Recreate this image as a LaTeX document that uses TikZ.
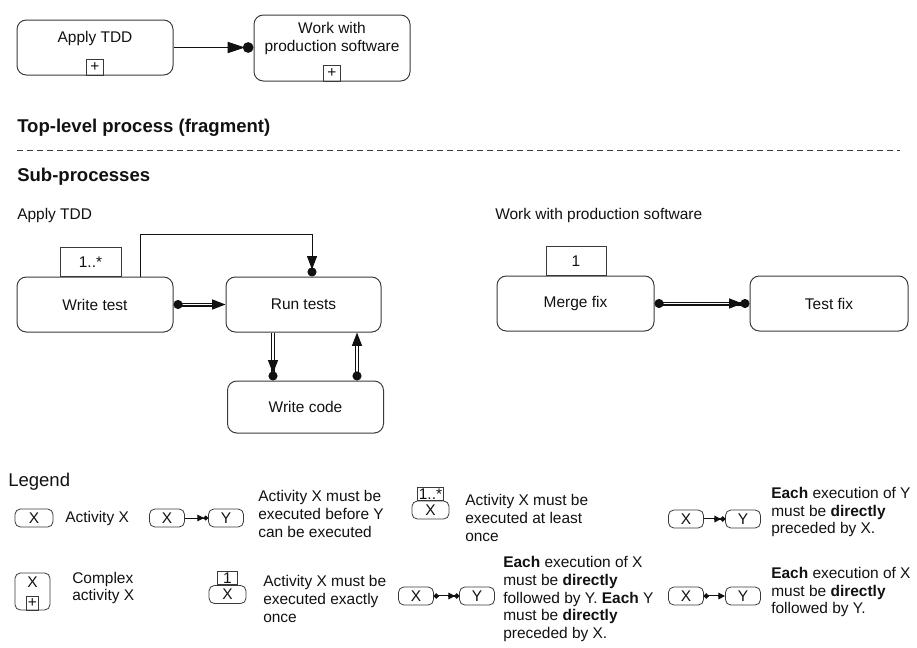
\documentclass[tikz,border=0pt]{standalone}
\usepackage{fontspec}
\setmainfont{Liberation Sans}
\usetikzlibrary{arrows.meta}
\definecolor{ink}{HTML}{111111}
\definecolor{rim}{HTML}{3A3A3A}
\tikzset{
  toptri/.tip={Triangle[length=13pt,width=8.5pt]},
  topdot/.tip={Circle[length=8pt]},
  bigtri/.tip={Triangle[length=10pt,width=7.5pt]},
  bigdot/.tip={Circle[length=6.8pt]},
  smalltri/.tip={Triangle[length=5pt 0 0,width=4.8pt 0 0]},
  smalldot/.tip={Circle[length=3.6pt 0 0]},
}
\begin{document}
\begin{tikzpicture}[x=0.75pt,y=-0.75pt,
  font=\fontsize{11.6}{13.1}\selectfont, text=ink,
  wd/.style={minimum width=#1*0.75pt},
  ht/.style={minimum height=#1*0.75pt},
  act/.style={draw=rim, line width=0.75pt, rounded corners=7pt, inner sep=0pt},
  plusbox/.style={draw=rim, line width=0.75pt, inner sep=0pt, wd=17, ht=16, anchor=south},
  multbox/.style={draw=rim, line width=0.75pt, inner sep=0pt, anchor=south, ht=29},
  txt/.style={anchor=west, inner sep=0pt, align=left},
  head/.style={txt, font=\fontsize{13.9}{16}\selectfont\bfseries},
  lbox/.style={draw=rim, line width=0.6pt, rounded corners=4pt, inner sep=0pt, wd=35, ht=18},
  lmult/.style={draw=rim, line width=0.6pt, inner sep=0.5pt, anchor=south, ht=13},
  ltext/.style={txt, font=\fontsize{11.6}{13.2}\selectfont},
  topbefore/.style={draw=ink, line width=0.75pt, -{toptri[sep=-1.5pt]topdot}},
  before/.style={draw=ink, line width=0.75pt, -{bigtri[sep=-1.5pt]bigdot}},
  sbefore/.style={draw=ink, line width=0.65pt, -{smalltri[sep=-0.6pt 0 0]smalldot}},
  dbl/.style={draw=ink, line width=0.9pt, double=white, double distance=1.2pt},
  % small double connectors: a solid band with a white core laid over it
  sband/.style={draw=ink, line width=2.1pt},
  score/.style={draw=white, line width=0.75pt},
]
\useasboundingbox (0,0) rectangle (917,647);

% ---------- top-level process ----------
\node[act, wd=156, ht=55] (apt) at (95,47.5) {};
\node at (95,38) {Apply TDD};
\node[plusbox] (aptplus) at (apt.south) {+};

\node[act, wd=156, ht=66] (wps) at (332,48) {};
\node[align=center] at (332,38.5) {Work with\\production software};
\node[plusbox] (wpsplus) at (wps.south) {+};

\draw[topbefore] (apt.east) -- (apt.east -| wps.west);

\node[head] (toplevel) at (17,128) {Top-level process (fragment)};
\draw[rim, line width=0.6pt, dash pattern=on 4.5pt off 3pt] (17,150) -- (900,150);
\node[head] (subproc) at (17,177) {Sub-processes};

% ---------- sub-process: Apply TDD ----------
\node[txt] (tddlabel) at (17,215) {Apply TDD};
\node[act, wd=156, ht=55] (wt) at (95,304.5) {Write test};
\node[multbox, wd=61] (wtmult) at (90.5,277) {1..*};
\node[act, wd=155, ht=55] (rt) at (303.5,304.5) {Run tests};
\node[act, wd=156, ht=52] (wc) at (305.5,407) {Write code};

\coordinate (loopa) at (140,234);
\coordinate (loopb) at (312,234);
\draw[before] (loopa |- wt.north) -- (loopa) -- (loopb) -- (loopb |- rt.north);

\draw[dbl, {bigdot}-{bigtri}] (wt.east) -- (rt.west);
\draw[dbl, -{bigtri[sep=-1.5pt]bigdot}] (rt.south -| 273,0) -- (wc.north -| 273,0);
\draw[dbl, {bigdot}-{bigtri}] (wc.north -| 357,0) -- (rt.south -| 357,0);

% ---------- sub-process: Work with production software ----------
\node[txt] (wpslabel) at (495,215) {Work with production software};
\node[act, wd=157, ht=55] (mf) at (575.5,303.5) {Merge fix};
\node[multbox, wd=60] (mfmult) at (576,276) {1};
\node[act, wd=158, ht=55] (tf) at (829,303.5) {Test fix};
\draw[dbl, {bigdot}-{bigtri[sep=-1.5pt]bigdot}] (mf.east) -- (tf.west);

% ---------- legend ----------
\node[txt, font=\fontsize{13.9}{16}\selectfont] (legend) at (8,482) {Legend};

% activity
\node[lbox, wd=38] (la) at (34,518) {X};
\node[ltext] at (65,518) {Activity X};

% precedence
\node[lbox] (lpx) at (167,518) {X};
\node[lbox] (lpy) at (226,518) {Y};
\draw[sbefore] (lpx) -- (lpy);
\node[ltext] at (258,514) {Activity X must be\\executed before Y\\can be executed};

% at least once
\node[lbox, wd=37] (lmx) at (430.5,510) {X};
\node[lmult, wd=26] (lmm) at (lmx.north) {1..*};
\node[ltext] at (465,518) {Activity X must be\\executed at least\\once};

% directly preceded
\node[lbox] (lqx) at (686,519) {X};
\node[lbox] (lqy) at (743,519) {Y};
\draw[sband, -{smalltri[sep=-0.6pt 0 0]smalldot}] (lqx) -- (lqy);
\draw[score, shorten >=8.5pt] (lqx) -- (lqy);
\node[ltext] at (771,512) {\textbf{Each} execution of Y\\must be \textbf{directly}\\preceded by X.};

% complex activity
\node[lbox, wd=35, ht=37] (lc) at (32.5,591.5) {};
\node at (32.5,582) {X};
\node[plusbox, wd=12, ht=14, line width=0.6pt] (lcplus) at (lc.south) {+};
\node[ltext] at (72,588) {Complex\\activity X};

% exactly once
\node[lbox, wd=37] (lex) at (227.5,594.5) {X};
\node[lmult, wd=20] (lem) at (lex.north) {1};
\node[ltext] at (263,599) {Activity X must be\\executed exactly\\once};

% directly followed and preceded
\node[lbox] (lbx) at (416,596) {X};
\node[lbox] (lby) at (477,596) {Y};
\draw[sband, {smalldot}-{smalltri[sep=-0.6pt 0 0]smalldot}] (lbx) -- (lby);
\draw[score, shorten <=3.8pt, shorten >=8.5pt] (lbx) -- (lby);
\node[ltext] at (503,599) {\textbf{Each} execution of X\\must be \textbf{directly}\\followed by Y. \textbf{Each} Y\\must be \textbf{directly}\\preceded by X.};

% directly followed
\node[lbox] (lfx) at (686,596) {X};
\node[lbox] (lfy) at (743,596) {Y};
\draw[sband, {smalldot}-{smalltri}] (lfx) -- (lfy);
\draw[score, shorten <=3.8pt, shorten >=5.4pt] (lfx) -- (lfy);
\node[ltext] at (771,592) {\textbf{Each} execution of X\\must be \textbf{directly}\\followed by Y.};
\end{tikzpicture}
\end{document}
